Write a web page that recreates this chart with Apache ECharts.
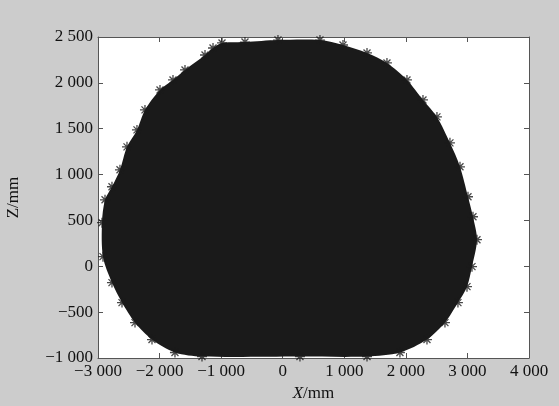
<!DOCTYPE html>
<html>
<head>
<meta charset="utf-8">
<script src="https://cdn.jsdelivr.net/npm/echarts@6/dist/echarts.min.js"></script>
<style>
  html, body { margin: 0; padding: 0; background: #cccccc; }
  #chart { width: 559px; height: 406px; }
</style>
</head>
<body>
<div id="chart"></div>
<script>
// outline of the point cloud (mm), clockwise from upper left
const edgeX = [-986, -613, -77, 605, 979, 1369, 1693, 2018, 2278, 2505, 2716, 2879, 3009, 3090, 3155, 3074, 2993, 2846, 2635, 2343, 1904, 1369, 280, -1311, -1750, -2123, -2399, -2610, -2773, -2919, -2935, -2886, -2773, -2643, -2529, -2367, -2237, -1993, -1782, -1587, -1262, -1132]
const edgeZ = [2435, 2445, 2467, 2467, 2413, 2326, 2217, 2032, 1814, 1629, 1346, 1085, 758, 540, 290, -4, -222, -396, -614, -799, -940, -984, -984, -984, -940, -799, -614, -396, -178, 105, 475, 725, 867, 1052, 1302, 1487, 1705, 1923, 2032, 2141, 2304, 2380]

const xTicks = [-3000, -2000, -1000, 0, 1000, 2000, 3000, 4000]
const zTicks = [-1000, -500, 0, 500, 1000, 1500, 2000, 2500]

const fmt = (v) => {
  const s = String(Math.abs(v)).replace(/\B(?=(\d{3})+(?!\d))/g, ' ')
  return (v < 0 ? '\u2212' : '') + s
}

const ink = '#1a1a1a'
const font = 'Liberation Serif'
const fs = 17

const chart = echarts.init(document.getElementById('chart'))

const axisCommon = {
  axisLine: { show: true, onZero: false, lineStyle: { color: '#555', width: 1 } },
  axisTick: { show: true, inside: true, length: 5, lineStyle: { color: '#555' } },
  splitLine: { show: false }
}

chart.setOption({
  backgroundColor: '#cccccc',
  animation: false,
  grid: {
    left: 98, right: 30, top: 37, bottom: 48,
    outerBoundsMode: 'none', containLabel: false,
    show: true, backgroundColor: '#ffffff', borderWidth: 0
  },
  xAxis: [
    {
      type: 'value', min: xTicks[0], max: xTicks[xTicks.length - 1], interval: 1000, position: 'bottom',
      ...axisCommon,
      axisLabel: { color: '#111', fontFamily: font, fontSize: fs, margin: 5, formatter: fmt },
      name: '{i|X}/mm', nameLocation: 'middle', nameGap: 27,
      nameTextStyle: { color: '#111', fontFamily: font, fontSize: fs, rich: { i: { fontStyle: 'italic', fontFamily: font, fontSize: fs, color: '#111' } } }
    },
    {
      type: 'value', min: xTicks[0], max: xTicks[xTicks.length - 1], interval: 1000, position: 'top',
      ...axisCommon, axisLabel: { show: false }
    }
  ],
  yAxis: [
    {
      type: 'value', min: zTicks[0], max: zTicks[zTicks.length - 1], interval: 500, position: 'left',
      ...axisCommon,
      axisLabel: { color: '#111', fontFamily: font, fontSize: fs, margin: 5, formatter: fmt },
      name: 'Z/mm', nameLocation: 'middle', nameGap: 76, nameRotate: 90,
      nameTextStyle: { color: '#111', fontFamily: font, fontSize: fs }
    },
    {
      type: 'value', min: zTicks[0], max: zTicks[zTicks.length - 1], interval: 500, position: 'right',
      ...axisCommon, axisLabel: { show: false }
    }
  ],
  series: [
    {
      type: 'custom',
      data: [[0, 0]],
      clip: true,
      renderItem: (params, api) => ({
        type: 'polygon',
        shape: { points: edgeX.map((x, i) => api.coord([x, edgeZ[i]])), smooth: 0.3 },
        style: { fill: ink }
      })
    },
    {
      type: 'scatter',
      data: edgeX.map((x, i) => [x, edgeZ[i]]),
      symbol: 'path://M0,-1L0,1M-1,0L1,0M-0.7,-0.7L0.7,0.7M-0.7,0.7L0.7,-0.7',
      symbolSize: 10,
      itemStyle: { color: 'none', borderColor: ink, borderWidth: 1.3 }
    }
  ]
})
</script>
</body>
</html>
